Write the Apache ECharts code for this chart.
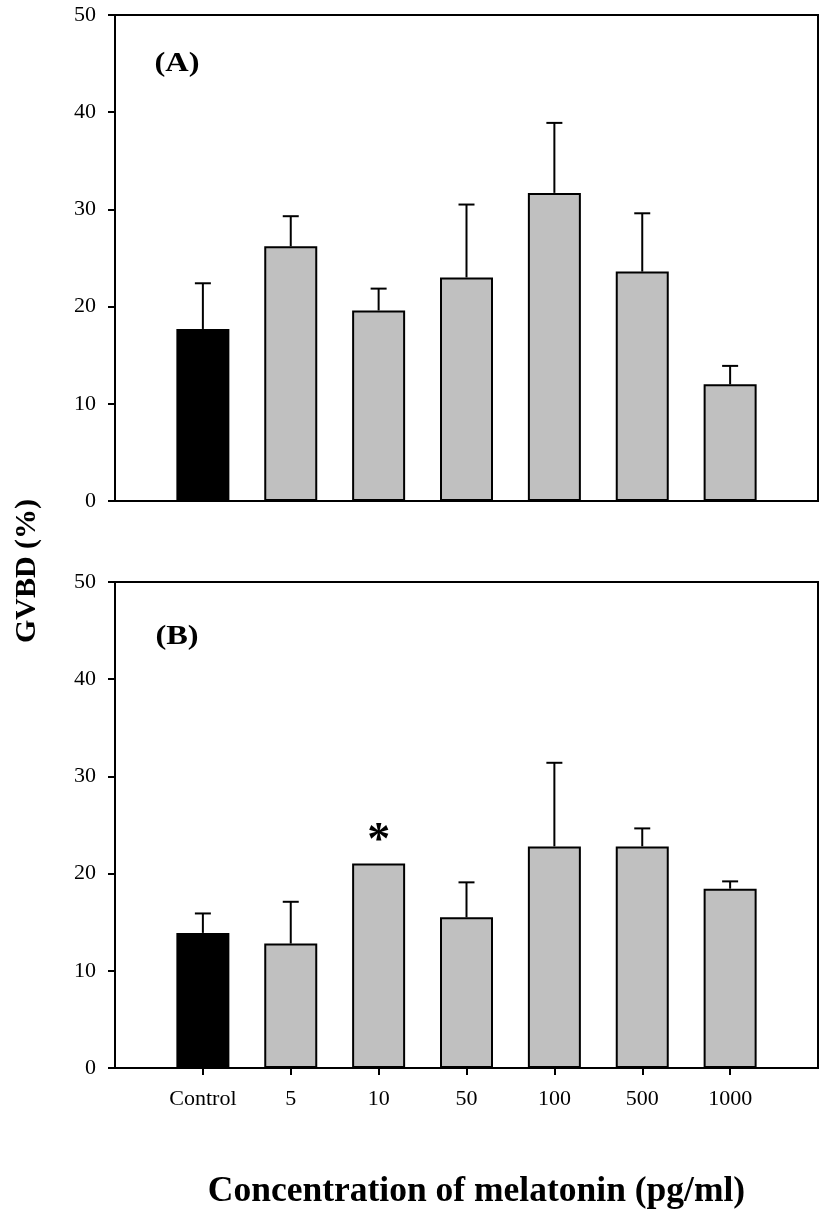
<!DOCTYPE html>
<html>
<head>
<meta charset="utf-8">
<script src="https://cdn.jsdelivr.net/npm/echarts@6/dist/echarts.min.js"></script>
<style>html,body{margin:0;padding:0;background:#fff;}#c{width:827px;height:1220px;}</style>
</head>
<body>
<div id="c"></div>
<script>
// Data
const categories = ['Control', '5', '10', '50', '100', '500', '1000'];
const meanA = [17.7, 26.2, 19.6, 23.0, 31.7, 23.6, 12.0];
const errA  = [4.7, 3.1, 2.25, 7.5, 7.2, 6.0, 1.9];
const meanB = [13.9, 12.8, 21.05, 15.5, 22.8, 22.8, 18.45];
const errB  = [2.0, 4.3, 0, 3.6, 8.6, 1.85, 0.75];
const sigB  = ['', '', '*', '', '', '', ''];
const yTicks = [0, 10, 20, 30, 40, 50];

const FONT = "'Liberation Serif', 'Times New Roman', serif";
const axisCats = [''].concat(categories, ['']);
const isCat = (i) => i > 0 && i < axisCats.length - 1;

function barData(means) {
  return ['-'].concat(means.map((v, i) => ({
    value: v,
    itemStyle: { color: i === 0 ? '#000000' : '#c0c0c0', borderColor: '#000', borderWidth: 2 }
  })), ['-']);
}
function errData(means, errs) {
  const out = [];
  means.forEach((v, i) => { if (errs[i] > 0) out.push([i + 1, v, v + errs[i]]); });
  return out;
}
function renderErr(params, api) {
  const base = api.coord([api.value(0), api.value(1)]);
  const top = api.coord([api.value(0), api.value(2)]);
  const st = { stroke: '#000', lineWidth: 2 };
  return {
    type: 'group',
    children: [
      { type: 'line', shape: { x1: base[0], y1: base[1], x2: base[0], y2: top[1] }, style: st },
      { type: 'line', shape: { x1: base[0] - 8, y1: top[1], x2: base[0] + 8, y2: top[1] }, style: st }
    ]
  };
}

const yAxisCommon = {
  type: 'value', min: yTicks[0], max: yTicks[yTicks.length - 1], interval: 10,
  splitLine: { show: false },
  axisLine: { show: true, lineStyle: { color: '#000', width: 2 } },
  axisTick: { show: true, inside: false, length: 7, lineStyle: { color: '#000', width: 2 } },
  axisLabel: { color: '#000', fontSize: 22, fontFamily: FONT, margin: 19 }
};

const option = {
  animation: false,
  backgroundColor: '#fff',
  grid: [
    { left: 115, right: 9, top: 15, height: 486, show: true, borderColor: '#000', borderWidth: 2, backgroundColor: 'transparent' },
    { left: 115, right: 9, top: 582, height: 486, show: true, borderColor: '#000', borderWidth: 2, backgroundColor: 'transparent' }
  ],
  xAxis: [
    {
      gridIndex: 0, type: 'category', data: axisCats, boundaryGap: false,
      axisLine: { lineStyle: { color: '#000', width: 2 } },
      axisTick: { show: false }, axisLabel: { show: false }, splitLine: { show: false }
    },
    {
      gridIndex: 1, type: 'category', data: axisCats, boundaryGap: false,
      axisLine: { lineStyle: { color: '#000', width: 2 } },
      axisTick: { show: true, inside: false, length: 7, interval: (i) => isCat(i), lineStyle: { color: '#000', width: 2 } },
      axisLabel: { show: true, interval: (i) => isCat(i), color: '#000', fontSize: 22, fontFamily: FONT, margin: 20 },
      splitLine: { show: false },
      name: 'Concentration of melatonin (pg/ml)',
      nameLocation: 'middle', nameGap: 106,
      nameTextStyle: { color: '#000', fontSize: 35.5, fontWeight: 'bold', fontFamily: FONT, padding: [0, 0, 0, 20] }
    }
  ],
  yAxis: [
    Object.assign({ gridIndex: 0 }, yAxisCommon),
    Object.assign({ gridIndex: 1 }, yAxisCommon)
  ],
  series: [
    { type: 'bar', xAxisIndex: 0, yAxisIndex: 0, barWidth: 53, data: barData(meanA), z: 2 },
    { type: 'custom', xAxisIndex: 0, yAxisIndex: 0, renderItem: renderErr, data: errData(meanA, errA), z: 3 },
    {
      type: 'bar', xAxisIndex: 1, yAxisIndex: 1, barWidth: 53, data: barData(meanB), z: 2,
      label: {
        show: true, position: 'top', distance: -2,
        formatter: (p) => sigB[p.dataIndex - 1] || '',
        color: '#000', fontSize: 46, fontWeight: 'bold', fontFamily: FONT
      }
    },
    { type: 'custom', xAxisIndex: 1, yAxisIndex: 1, renderItem: renderErr, data: errData(meanB, errB), z: 3 }
  ],
  graphic: [
    {
      type: 'text', x: 27, y: 571, rotation: Math.PI / 2,
      style: { text: 'GVBD (%)', fill: '#000', font: "bold 30px 'Liberation Serif', serif", textAlign: 'center', textVerticalAlign: 'middle' }
    },
    {
      type: 'text', x: 177, y: 64, scaleX: 1.2,
      style: { text: '(A)', fill: '#000', font: "bold 27px 'Liberation Serif', serif", textAlign: 'center', textVerticalAlign: 'middle' }
    },
    {
      type: 'text', x: 177, y: 637, scaleX: 1.2,
      style: { text: '(B)', fill: '#000', font: "bold 27px 'Liberation Serif', serif", textAlign: 'center', textVerticalAlign: 'middle' }
    }
  ]
};

const chart = echarts.init(document.getElementById('c'), null, { renderer: 'canvas' });
chart.setOption(option);
</script>
</body>
</html>
